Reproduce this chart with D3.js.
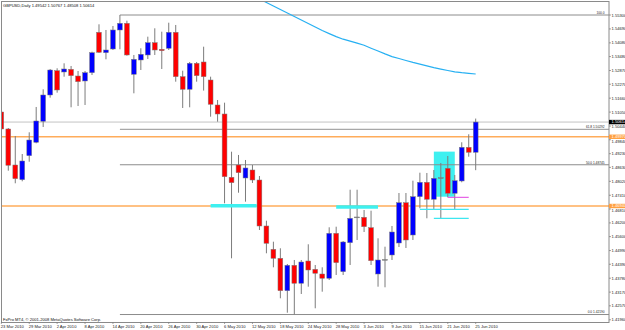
<!DOCTYPE html>
<meta charset="utf-8">
<style>
body { margin: 0; background: #fff; }
svg { display: block; font-family: "Liberation Sans", Arial, sans-serif; }
.axis text, .dates text { fill: #222; font-size: 4.1px; }
.fib text { fill: #222; font-size: 3.2px; }
</style>
<body>
<script src="https://d3js.org/d3.v7.min.js"></script>
<script>

var width = 625, height = 330;
var plotLeft = 1.5, plotRight = 609, plotTop = 1.5, plotBottom = 322.5;

// daily GBPUSD bars, 23 Mar 2010 .. 25 Jun 2010
var opens = [1.51055,1.50311,1.48735,1.48092,1.49142,1.49729,1.50648,1.51799,1.52862,1.52806,
  1.52924,1.52630,1.52412,1.52775,1.54543,1.53650,1.53812,1.54644,1.54937,1.52705,
  1.53331,1.53550,1.54088,1.53799,1.53843,1.54543,1.52600,1.52048,1.53186,1.53243,
  1.52455,1.51361,1.50967,1.48197,1.48735,1.48166,1.48516,1.48078,1.46065,1.45045,
  1.44651,1.43233,1.44345,1.43557,1.44533,1.44170,1.43964,1.43776,1.45745,1.44065,
  1.45334,1.46429,1.46446,1.45991,1.43964,1.44577,1.44796,1.45321,1.47085,1.45671,
  1.47347,1.47978,1.47234,1.48166,1.48591,1.47496,1.48035,1.49510,1.49291];
var highs = [1.51142,1.50354,1.50004,1.49216,1.50166,1.51274,1.52048,1.52937,1.52968,1.53186,
  1.53068,1.52849,1.52849,1.53694,1.54893,1.54644,1.54819,1.55300,1.55051,1.53550,
  1.53843,1.54351,1.54718,1.54569,1.54963,1.54863,1.52862,1.53243,1.53243,1.53913,
  1.52600,1.51580,1.51462,1.49317,1.49173,1.48954,1.48735,1.48253,1.46297,1.45378,
  1.45089,1.44402,1.44577,1.44577,1.45264,1.44358,1.44257,1.46008,1.46034,1.45408,
  1.47653,1.47653,1.46765,1.46735,1.45527,1.45159,1.46065,1.47509,1.47509,1.48048,
  1.48398,1.48385,1.48516,1.48822,1.49129,1.48298,1.49729,1.50079,1.50767];
var lows = [1.49698,1.48486,1.47934,1.48021,1.48879,1.49685,1.50398,1.51681,1.51900,1.52600,
  1.51260,1.51317,1.51361,1.52674,1.53637,1.53361,1.53768,1.53799,1.53519,1.51873,
  1.52893,1.53375,1.53550,1.52937,1.53768,1.52381,1.51230,1.51260,1.52381,1.51992,
  1.50849,1.50630,1.47059,1.44651,1.47522,1.47129,1.47947,1.45890,1.44870,1.44257,
  1.42900,1.42270,1.42190,1.43089,1.43408,1.42463,1.43189,1.43701,1.43920,1.43920,
  1.44358,1.45452,1.45802,1.44358,1.43408,1.43382,1.44577,1.45146,1.45102,1.45452,
  1.46840,1.46402,1.46796,1.46402,1.47321,1.46796,1.47978,1.49098,1.48508];
var closes = [1.50311,1.48722,1.48135,1.48910,1.49829,1.50661,1.51799,1.52893,1.52018,1.52937,
  1.52644,1.52381,1.52775,1.53650,1.53668,1.53768,1.54644,1.54937,1.53550,1.53361,
  1.53580,1.54088,1.53768,1.53738,1.54543,1.52600,1.52048,1.53186,1.52644,1.52600,
  1.51392,1.50967,1.48223,1.47960,1.48398,1.48604,1.48078,1.46065,1.45308,1.44651,
  1.43233,1.44345,1.43557,1.44489,1.44139,1.43995,1.43776,1.45745,1.44459,1.45365,
  1.46402,1.46459,1.46034,1.44546,1.44577,1.44599,1.45802,1.47085,1.45452,1.47347,
  1.47978,1.47234,1.48153,1.48179,1.47496,1.48048,1.49510,1.49291,1.50614];

// moving average, visible from bar 36 on
var maStart = 36;
var maValues = [1.56066,1.56001,1.55848,1.55694,1.55541,1.55388,1.55235,1.55082,1.54928,1.54775,
  1.54622,1.54486,1.54355,1.54241,1.54154,1.54066,1.53974,1.53847,1.53725,1.53598,
  1.53480,1.53396,1.53309,1.53226,1.53151,1.53073,1.52998,1.52933,1.52871,1.52810,
  1.52775,1.52749,1.52718];

var priceTicks = ["1.55300","1.54690","1.54080","1.53480","1.52870","1.52270","1.51660","1.51050",
  "1.50440","1.49840","1.49230","1.48630","1.48020","1.47410","1.46810","1.46200","1.45600",
  "1.44990","1.44390","1.43780","1.43170","1.42570","1.41960"];

var fibLevels = [100, 61.8, 50, 0];
var fibHigh = 1.55300, fibLow = 1.42190, fibFrom = 17;
var levelLines = [1.49970, 1.46940];
var levelLabels = ["1.49970", "1.46940"];
var bidPrice = 1.50614;

// drawn objects: [from bar, to bar, price]
var thickSegments = [[30, 36.6, 1.46949], [48, 54, 1.46897]];
var thinSegments = [[60, 67, 1.46796], [62, 67, 1.46402]];
var magentaSegments = [[64, 67, 1.47321]];
var boxes = [[62, 65, 1.49320, 1.47347]];

var header = "GBPUSD,Daily  1.49542 1.50767 1.48508 1.50614";
var footer = "FxPro MT4, \u00a9 2001-2008 MetaQuotes Software Corp.";

var days = d3.timeDays(new Date(2010, 2, 23), new Date(2010, 5, 26))
    .filter(function(d) { return d.getDay() !== 0 && d.getDay() !== 6; });
var fmt = d3.timeFormat("%-d %b %Y");

var bars = opens.map(function(o, i) {
  return {i: i, o: o, h: highs[i], l: lows[i], c: closes[i]};
});

var x = d3.scaleLinear().domain([0, 68]).range([1.32, 475.7]);
var y = d3.scaleLinear().domain([1.41946, 1.55300]).range([320.1, 15]);

var svg = d3.select("body").append("svg")
    .attr("width", width)
    .attr("height", height);

svg.append("defs").append("clipPath").attr("id", "plot")
  .append("rect")
    .attr("x", plotLeft).attr("y", plotTop)
    .attr("width", plotRight - plotLeft).attr("height", plotBottom - plotTop);

var plot = svg.append("g").attr("clip-path", "url(#plot)");

// background rectangle object
plot.selectAll(".box")
    .data(boxes)
  .enter().append("rect")
    .attr("x", function(d) { return x(d[0]); })
    .attr("y", function(d) { return y(d[2]); })
    .attr("width", function(d) { return x(d[1]) - x(d[0]); })
    .attr("height", function(d) { return y(d[3]) - y(d[2]); })
    .style("fill", "#3ef0f0");

// bid line
plot.append("line")
    .attr("x1", plotLeft).attr("x2", plotRight)
    .attr("y1", y(bidPrice)).attr("y2", y(bidPrice))
    .style("stroke", "#c4c4c4").style("stroke-width", 1);

// horizontal levels
plot.selectAll(".level")
    .data(levelLines)
  .enter().append("line")
    .attr("x1", plotLeft).attr("x2", plotRight)
    .attr("y1", function(d) { return y(d); })
    .attr("y2", function(d) { return y(d); })
    .style("stroke", "#ffac5a").style("stroke-width", 1.5);

// fibo
var fib = plot.append("g").attr("class", "fib");
fibLevels.forEach(function(lv) {
  var p = fibLow + (fibHigh - fibLow) * lv / 100;
  fib.append("line")
      .attr("x1", x(fibFrom)).attr("x2", plotRight)
      .attr("y1", y(p)).attr("y2", y(p))
      .style("stroke", lv === 61.8 ? "#a8a8a8" : "#8c8c8c")
      .style("stroke-width", lv === 61.8 ? 1.4 : 1);
  fib.append("text")
      .attr("x", 604.5)
      .attr("y", y(p) - 1.2)
      .attr("text-anchor", "end")
      .text(lv === 100 ? "100.0" : d3.format(".1f")(lv) + " " + d3.format(".5f")(p));
});

// candles
var candle = plot.selectAll(".bar")
    .data(bars)
  .enter().append("g")
    .attr("class", "bar");

candle.append("line")
    .attr("x1", function(d) { return x(d.i); })
    .attr("x2", function(d) { return x(d.i); })
    .attr("y1", function(d) { return y(d.h); })
    .attr("y2", function(d) { return y(d.l); })
    .style("stroke", "#7c7c7c").style("stroke-width", 1);

candle.append("rect")
    .attr("x", function(d) { return x(d.i) - 2.4; })
    .attr("width", 4.8)
    .attr("y", function(d) { return y(Math.max(d.o, d.c)); })
    .attr("height", function(d) { return Math.max(0.8, Math.abs(y(d.o) - y(d.c))); })
    .style("fill", function(d) {
      if (Math.abs(y(d.o) - y(d.c)) < 1) return "#7c7c7c";
      return d.c > d.o ? "#0000ff" : "#ff0000";
    })
    .style("stroke", "#7c7c7c").style("stroke-width", 0.5);

// moving average
plot.append("path")
    .datum(maValues)
    .attr("d", d3.line()
      .x(function(d, k) { return x(maStart + k); })
      .y(function(d) { return y(d); }))
    .style("fill", "none").style("stroke", "#27b0f2").style("stroke-width", 1.2);

// drawn trend segments
plot.selectAll(".thick")
    .data(thickSegments)
  .enter().append("line")
    .attr("x1", function(d) { return x(d[0]); })
    .attr("x2", function(d) { return x(d[1]); })
    .attr("y1", function(d) { return y(d[2]); })
    .attr("y2", function(d) { return y(d[2]); })
    .style("stroke", "#3ef0f0").style("stroke-width", 3.6);

plot.selectAll(".thin")
    .data(thinSegments)
  .enter().append("line")
    .attr("x1", function(d) { return x(d[0]); })
    .attr("x2", function(d) { return x(d[1]); })
    .attr("y1", function(d) { return y(d[2]); })
    .attr("y2", function(d) { return y(d[2]); })
    .style("stroke", "#3ee6f0").style("stroke-width", 1.3);

plot.selectAll(".magenta")
    .data(magentaSegments)
  .enter().append("line")
    .attr("x1", function(d) { return x(d[0]); })
    .attr("x2", function(d) { return x(d[1]); })
    .attr("y1", function(d) { return y(d[2]); })
    .attr("y2", function(d) { return y(d[2]); })
    .style("stroke", "#e040e0").style("stroke-width", 1);

// texts inside the chart
svg.append("text")
    .attr("x", 3).attr("y", 7)
    .style("font-size", "4.1px").style("fill", "#111")
    .text(header);

svg.append("text")
    .attr("x", 3).attr("y", 320.8)
    .style("font-size", "4.1px").style("fill", "#111")
    .text(footer);

// frame
svg.append("rect")
    .attr("x", plotLeft).attr("y", plotTop)
    .attr("width", plotRight - plotLeft).attr("height", plotBottom - plotTop)
    .style("fill", "none").style("stroke", "#8a8a8a").style("stroke-width", 1);

// price axis
var axis = svg.append("g").attr("class", "axis");
var boxPrices = levelLines.concat([bidPrice]);
priceTicks.forEach(function(t) {
  var py = y(+t);
  var ty = py + 1.5;
  // keep the tick text clear of the price boxes
  boxPrices.forEach(function(bp) {
    var by = y(bp);
    if (Math.abs(py - by) < 6.5) ty = py > by ? by + 6.4 : by - 2.8;
  });
  axis.append("line")
      .attr("x1", plotRight).attr("x2", plotRight + 2)
      .attr("y1", py).attr("y2", py)
      .style("stroke", "#666").style("stroke-width", 0.6);
  axis.append("text")
      .attr("x", 611.5).attr("y", ty)
      .text(t);
});

function priceBox(p, label, bg) {
  var py = y(p);
  axis.append("rect")
      .attr("x", 609).attr("y", py - 2.2)
      .attr("width", 16).attr("height", 4.4)
      .style("fill", bg);
  axis.append("text")
      .attr("x", 611.5).attr("y", py + 1.4)
      .style("fill", "#fff")
      .text(label);
}
levelLines.forEach(function(p, k) { priceBox(p, levelLabels[k], "#ffa040"); });
priceBox(bidPrice, d3.format(".5f")(bidPrice), "#000");

// time axis
var dates = svg.append("g").attr("class", "dates");
days.forEach(function(d, i) {
  if (i % 4 !== 0) return;
  dates.append("line")
      .attr("x1", x(i)).attr("x2", x(i))
      .attr("y1", plotBottom).attr("y2", plotBottom + 1.5)
      .style("stroke", "#666").style("stroke-width", 0.6);
  dates.append("text")
      .attr("x", x(i) - 0.5).attr("y", 328.3)
      .text(fmt(d));
});

</script>
